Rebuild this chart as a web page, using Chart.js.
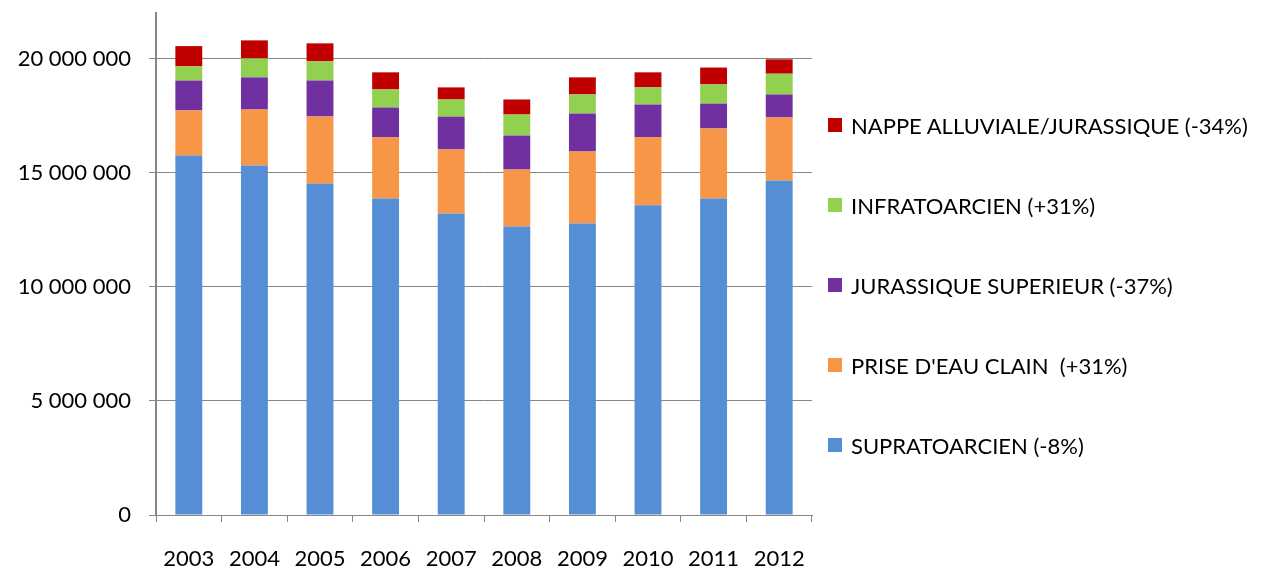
<!DOCTYPE html>
<html>
<head>
<meta charset="utf-8">
<script src="https://cdn.jsdelivr.net/npm/chart.js@4/dist/chart.umd.min.js"></script>
<style>
    html, body { margin: 0; padding: 0; background: #fff; }
    #wrap { position: relative; width: 1270px; height: 567px; }
    #legend { position: absolute; left: 828px; top: 0; font-family: Lato, sans-serif; font-size: 22px; color: #000; }
    .item { position: absolute; left: 0; display: flex; align-items: center; white-space: pre; height: 26px; }
    .box { width: 14px; height: 14px; margin-right: 9px; flex: none; }
</style>
</head>
<body>
<div id="wrap">
    <canvas id="chart" width="1270" height="567"></canvas>
    <div id="legend"></div>
</div>
<script>
const years = ['2003', '2004', '2005', '2006', '2007', '2008', '2009', '2010', '2011', '2012'];

const supratoarcien = [15760000, 15320000, 14530000, 13870000, 13210000, 12640000, 12770000, 13570000, 13870000, 14660000];
const priseEauClain = [1970000, 2450000, 2930000, 2680000, 2810000, 2500000, 3160000, 2980000, 3070000, 2760000];
const jurassiqueSup = [1310000, 1410000, 1580000, 1310000, 1440000, 1490000, 1670000, 1440000, 1090000, 1010000];
const infratoarcien = [620000, 830000, 840000, 790000, 750000, 920000, 830000, 750000, 840000, 910000];
const nappeAlluviale = [890000, 790000, 790000, 750000, 530000, 660000, 750000, 660000, 740000, 630000];

const yTickValues = [0, 5000000, 10000000, 15000000, 20000000];

const seriesNames = [
    'SUPRATOARCIEN (-8%)',
    "PRISE D'EAU CLAIN  (+31%)",
    'JURASSIQUE SUPERIEUR (-37%)',
    'INFRATOARCIEN (+31%)',
    'NAPPE ALLUVIALE/JURASSIQUE (-34%)'
];
const seriesColors = ['#558ED5', '#F79646', '#7030A0', '#92D050', '#C00000'];
const seriesValues = [supratoarcien, priseEauClain, jurassiqueSup, infratoarcien, nappeAlluviale];

const axisGrey = '#868686';
const font = { family: 'Lato, sans-serif', size: 22 };

function formatThousands(v) {
    return String(v).replace(/\B(?=(\d{3})+(?!\d))/g, ' ');
}

const chart = new Chart(document.getElementById('chart'), {
    type: 'bar',
    data: {
        labels: years,
        datasets: seriesValues.map((values, i) => ({
            label: seriesNames[i],
            data: values,
            backgroundColor: seriesColors[i],
            borderWidth: 0,
            categoryPercentage: 1,
            barPercentage: 0.41
        }))
    },
    options: {
        responsive: false,
        animation: false,
        layout: { padding: { left: 0, top: 13, right: 458, bottom: 0 } },
        plugins: {
            legend: { display: false },
            tooltip: { enabled: false }
        },
        scales: {
            x: {
                stacked: true,
                afterFit: (scale) => { scale.height = 52; scale.paddingLeft = 0; scale.paddingRight = 0; },
                grid: { offset: true, drawOnChartArea: false, drawTicks: true, tickLength: 7, color: axisGrey },
                border: { color: axisGrey, width: 1 },
                ticks: { font: font, color: '#000', padding: 24, maxRotation: 0 }
            },
            y: {
                stacked: true,
                min: 0,
                max: 22000000,
                afterFit: (scale) => { scale.width = 156; scale.paddingTop = 0; scale.paddingBottom = 0; },
                afterBuildTicks: (scale) => { scale.ticks = yTickValues.map(v => ({ value: v })); },
                grid: { color: axisGrey, lineWidth: 1, tickLength: 7, drawTicks: true },
                border: { color: axisGrey, width: 2 },
                ticks: {
                    font: font,
                    color: '#000',
                    padding: 18,
                    callback: (value) => formatThousands(value)
                }
            }
        }
    }
});

// legend on the right, top item = last series
const legendEl = document.getElementById('legend');
const legendTops = [125, 205, 285, 365, 445];
chart.options.plugins.legend.labels.generateLabels(chart).reverse().forEach((item, i) => {
    const row = document.createElement('div');
    row.className = 'item';
    row.style.top = (legendTops[i] - 13) + 'px';
    const box = document.createElement('span');
    box.className = 'box';
    box.style.background = item.fillStyle;
    const text = document.createElement('span');
    text.textContent = item.text;
    row.appendChild(box);
    row.appendChild(text);
    legendEl.appendChild(row);
});
</script>
</body>
</html>
